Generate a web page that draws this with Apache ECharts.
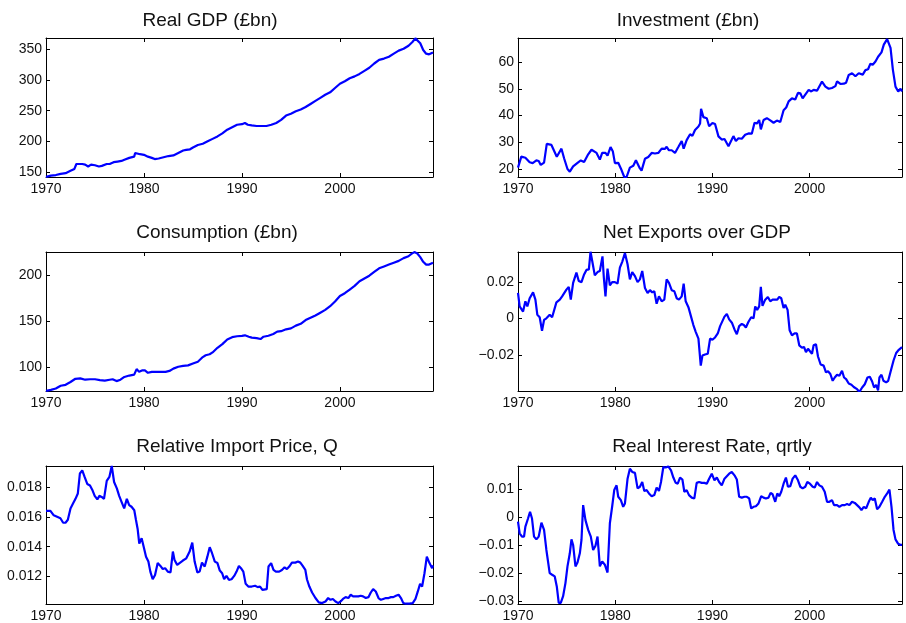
<!DOCTYPE html>
<html>
<head>
<meta charset="utf-8">
<script src="https://cdn.jsdelivr.net/npm/echarts@6/dist/echarts.min.js"></script>
<style>
html, body { margin: 0; padding: 0; background: #fff; }
#chart { width: 906px; height: 623px; }
</style>
</head>
<body>
<div id="chart"></div>
<script>
// quarterly UK series as [year, value]
const realGdp = [[1970.0,142],[1970.5,144],[1971.0,145],[1971.5,147],[1972.0,148],[1972.5,152],[1972.9,155],[1973.1,163],[1973.3,164],[1973.7,163],[1974.0,162],[1974.3,159],[1974.6,162],[1975.0,161],[1975.4,159],[1975.7,160],[1976.2,163],[1976.5,163],[1976.9,166],[1977.3,167],[1977.7,168],[1978.0,170],[1978.5,173],[1979.0,175],[1979.1,181],[1979.3,178],[1979.6,179],[1980.0,178],[1980.4,175],[1980.8,173],[1981.1,171],[1981.5,172],[1982.0,174],[1982.5,176],[1983.0,177],[1983.5,181],[1984.0,185],[1984.3,186],[1984.7,187],[1985.0,190],[1985.5,194],[1986.0,196],[1986.5,200],[1987.0,204],[1987.5,208],[1988.0,213],[1988.5,219],[1989.0,223],[1989.5,227],[1990.0,228],[1990.3,230],[1990.6,227],[1991.0,226],[1991.5,225],[1992.0,225],[1992.5,225],[1993.0,227],[1993.5,230],[1994.0,235],[1994.5,242],[1995.0,245],[1995.5,249],[1996.0,252],[1996.5,256],[1997.0,261],[1997.5,266],[1998.0,271],[1998.5,276],[1999.0,280],[1999.5,287],[2000.0,294],[2000.5,298],[2001.0,303],[2001.5,306],[2002.0,310],[2002.5,315],[2003.0,320],[2003.5,327],[2004.0,333],[2004.5,335],[2005.0,338],[2005.5,343],[2006.0,348],[2006.5,351],[2007.0,356],[2007.4,362],[2007.7,368],[2007.9,368],[2008.2,360],[2008.5,349],[2008.8,343],[2009.1,342],[2009.5,345]];

const investment = [[1970.00,20.5],[1970.34,24.6],[1970.76,24.2],[1971.20,22.5],[1971.51,22.2],[1971.89,23.2],[1972.13,23.0],[1972.34,21.5],[1972.68,22.4],[1972.82,22.6],[1972.96,29.4],[1973.44,29.0],[1973.64,28.5],[1973.99,24.6],[1974.47,27.6],[1974.74,24],[1975.09,20],[1975.33,19],[1975.67,21],[1976.19,22.5],[1976.46,23.2],[1976.80,22.6],[1977.22,25.5],[1977.56,27.2],[1978.08,26],[1978.42,23.5],[1978.66,26],[1979.00,26],[1979.21,25],[1979.52,28.2],[1979.76,26.5],[1979.97,22.2],[1980.31,22.3],[1980.65,19.6],[1980.93,17],[1981.17,17],[1981.51,20.5],[1981.86,21.2],[1982.13,23.3],[1982.30,23.5],[1982.54,20.2],[1982.71,19.4],[1983.06,23.8],[1983.40,24.5],[1983.75,26],[1984.09,25.8],[1984.43,26],[1984.78,27.6],[1985.12,27.5],[1985.29,28.3],[1985.53,27],[1985.81,27],[1986.15,26],[1986.49,28.2],[1986.84,30.5],[1987.04,27.6],[1987.35,30.8],[1987.70,33],[1987.94,32.4],[1988.21,34.6],[1988.56,35.9],[1988.73,37],[1988.83,42.5],[1989.07,39.4],[1989.42,39],[1989.66,36],[1990.00,37.2],[1990.27,36.8],[1990.62,32.2],[1990.96,31],[1991.24,31.2],[1991.65,28.5],[1991.99,31],[1992.16,32.3],[1992.41,30.5],[1992.68,31.5],[1993.02,31.3],[1993.37,32.8],[1993.71,33.3],[1994.05,33.2],[1994.33,37.3],[1994.57,37],[1994.81,38.3],[1994.98,34.8],[1995.26,38.3],[1995.60,39],[1995.95,38.2],[1996.12,38.7],[1996.29,37.3],[1996.63,38.1],[1996.98,37.6],[1997.32,42],[1997.59,43],[1997.84,45.3],[1998.18,46.4],[1998.52,46],[1998.80,48.5],[1999.04,48.3],[1999.28,46.4],[1999.55,47.8],[1999.90,49.6],[2000.17,49],[2000.41,49.6],[2000.76,49.3],[2000.93,49],[2001.27,52.7],[2001.62,50.8],[2001.96,50],[2002.30,50.3],[2002.65,51],[2002.82,52.8],[2003.16,51.8],[2003.51,51.9],[2003.75,52.3],[2004.02,55.2],[2004.36,55.8],[2004.71,54.7],[2005.05,55.8],[2005.22,56.4],[2005.46,55.3],[2005.74,57],[2006.01,57.3],[2006.25,59.4],[2006.49,59],[2006.77,60.2],[2007.04,62],[2007.39,63.6],[2007.63,66.5],[2007.97,68.6],[2008.14,68.8],[2008.32,65.3],[2008.56,57.2],[2008.83,50.8],[2009.11,49],[2009.35,50],[2009.50,49]];

const consumption = [[1970.0,74.5],[1970.5,75.5],[1971.0,77],[1971.5,80],[1972.0,81],[1972.5,84],[1973.0,87.5],[1973.5,88],[1974.0,86.5],[1974.5,87],[1975.0,87],[1975.5,86],[1976.0,85.5],[1976.5,86.5],[1976.8,87],[1977.2,85],[1977.6,86.5],[1978.0,89.5],[1978.5,91],[1979.0,92],[1979.25,98],[1979.5,95],[1979.8,96.5],[1980.1,96.5],[1980.4,94],[1980.8,95],[1981.2,95],[1981.7,95],[1982.2,95],[1982.6,96],[1983.0,98.5],[1983.5,100.5],[1984.0,101.5],[1984.5,102],[1985.0,104],[1985.5,106],[1986.0,111],[1986.3,113],[1986.7,114],[1987.0,116],[1987.5,121],[1988.0,125],[1988.5,130],[1989.0,132.5],[1989.5,133.5],[1990.0,134],[1990.3,134.5],[1990.7,133],[1991.0,132],[1991.5,131.5],[1991.9,130.5],[1992.2,133],[1992.7,134],[1993.2,136],[1993.6,138.5],[1994.0,139],[1994.5,141],[1995.0,142],[1995.5,145],[1996.0,147],[1996.5,151],[1997.0,153.5],[1997.5,156],[1998.0,159],[1998.5,162],[1999.0,166],[1999.5,171],[2000.0,177],[2000.5,180],[2001.0,184],[2001.5,188],[2002.0,193],[2002.5,196],[2003.0,199],[2003.5,203],[2004.0,207],[2004.5,209],[2005.0,211],[2005.5,213],[2006.0,215],[2006.5,218],[2007.0,220],[2007.3,222.5],[2007.6,224.5],[2007.9,223],[2008.2,219],[2008.5,214],[2008.8,211],[2009.1,211],[2009.5,213]];

const netExports = [[1970.00,0.0139],[1970.17,0.0065],[1970.52,0.0037],[1970.76,0.0093],[1970.96,0.0065],[1971.20,0.011],[1971.55,0.0142],[1971.79,0.0102],[1971.99,0.0019],[1972.23,0.0006],[1972.47,-0.0068],[1972.68,-0.0009],[1972.92,0],[1973.26,0.0019],[1973.51,0.0006],[1973.71,0.0006],[1973.95,0.0087],[1974.30,0.0102],[1974.54,0.012],[1974.74,0.011],[1974.98,0.0157],[1975.22,0.0172],[1975.43,0.0102],[1975.67,0.0194],[1976.01,0.025],[1976.25,0.0204],[1976.53,0.0198],[1976.80,0.024],[1977.04,0.0265],[1977.29,0.0268],[1977.46,0.0364],[1977.63,0.0315],[1977.90,0.0235],[1978.18,0.0253],[1978.42,0.0259],[1978.69,0.0339],[1978.83,0.0222],[1979.00,0.012],[1979.21,0.0272],[1979.45,0.018],[1979.69,0.0198],[1979.97,0.0198],[1980.24,0.019],[1980.48,0.0277],[1980.72,0.0309],[1981.00,0.0357],[1981.27,0.0296],[1981.51,0.0213],[1981.75,0.0253],[1982.03,0.0231],[1982.30,0.0198],[1982.54,0.0213],[1982.78,0.0259],[1983.06,0.0166],[1983.33,0.0139],[1983.57,0.0154],[1983.81,0.0142],[1984.02,0.0148],[1984.26,0.008],[1984.50,0.012],[1984.78,0.0093],[1985.05,0.0102],[1985.29,0.0213],[1985.53,0.0194],[1985.81,0.0154],[1986.08,0.0148],[1986.32,0.011],[1986.56,0.0102],[1986.84,0.012],[1987.04,0.019],[1987.25,0.0093],[1987.53,0.0061],[1987.80,0.0009],[1988.04,-0.0037],[1988.28,-0.0074],[1988.56,-0.0111],[1988.80,-0.0259],[1988.97,-0.0204],[1989.24,-0.0198],[1989.52,-0.0194],[1989.76,-0.0111],[1990.00,-0.0117],[1990.27,-0.0105],[1990.55,-0.0083],[1990.79,-0.0043],[1990.96,-0.0046],[1991.24,0.0009],[1991.48,0.0024],[1991.72,-0.0006],[1992.00,-0.0024],[1992.27,-0.0061],[1992.51,-0.0087],[1992.75,-0.0043],[1993.02,-0.0031],[1993.23,-0.0037],[1993.44,-0.005],[1993.71,-0.0019],[1993.99,0.0006],[1994.23,0],[1994.40,0.0065],[1994.60,0.0046],[1994.81,0.0065],[1994.98,0.0172],[1995.15,0.0068],[1995.43,0.0102],[1995.70,0.0117],[1995.95,0.0093],[1996.19,0.0102],[1996.46,0.0102],[1996.67,0.0102],[1996.87,0.0117],[1997.08,0.011],[1997.32,0.0056],[1997.49,0.0074],[1997.73,0.0046],[1997.94,-0.0065],[1998.18,-0.0093],[1998.45,-0.0083],[1998.69,-0.0083],[1998.93,-0.0148],[1999.21,-0.0161],[1999.42,-0.0157],[1999.62,-0.0185],[1999.83,-0.0167],[2000.03,-0.0161],[2000.24,-0.0194],[2000.41,-0.0148],[2000.65,-0.0142],[2000.86,-0.0209],[2001.13,-0.0253],[2001.44,-0.0259],[2001.68,-0.0296],[2001.89,-0.029],[2002.13,-0.0305],[2002.37,-0.0342],[2002.58,-0.0324],[2002.82,-0.0309],[2003.06,-0.0314],[2003.33,-0.0287],[2003.54,-0.0324],[2003.75,-0.0333],[2004.02,-0.0357],[2004.30,-0.0364],[2004.54,-0.0376],[2004.88,-0.0388],[2005.12,-0.0403],[2005.40,-0.0379],[2005.67,-0.0361],[2005.95,-0.0324],[2006.19,-0.032],[2006.43,-0.0346],[2006.63,-0.0379],[2006.84,-0.0364],[2007.04,-0.0394],[2007.18,-0.0324],[2007.39,-0.0309],[2007.59,-0.0342],[2007.87,-0.0351],[2008.08,-0.0342],[2008.35,-0.0287],[2008.63,-0.0231],[2008.90,-0.019],[2009.11,-0.0176],[2009.31,-0.018],[2009.50,-0.0158]];

const importPrice = [[1970.00,0.0164],[1970.45,0.0164],[1970.79,0.0161],[1971.13,0.0160],[1971.47,0.0159],[1971.75,0.0156],[1971.99,0.0156],[1972.23,0.0158],[1972.50,0.01656],[1972.77,0.0169],[1973.01,0.0172],[1973.25,0.01756],[1973.46,0.0189],[1973.70,0.0191],[1973.94,0.01867],[1974.21,0.0182],[1974.49,0.0181],[1974.73,0.0178],[1974.97,0.0174],[1975.24,0.01716],[1975.45,0.0174],[1975.68,0.01733],[1975.92,0.0172],[1976.20,0.0184],[1976.47,0.01867],[1976.71,0.0194],[1976.95,0.01833],[1977.23,0.0179],[1977.47,0.0174],[1977.71,0.0170],[1977.98,0.01656],[1978.25,0.0172],[1978.49,0.01678],[1978.73,0.01667],[1979.01,0.01644],[1979.18,0.0158],[1979.35,0.0152],[1979.52,0.0142],[1979.76,0.01456],[1979.97,0.0140],[1980.21,0.01333],[1980.45,0.0130],[1980.65,0.01233],[1980.89,0.01182],[1981.13,0.0121],[1981.40,0.0129],[1981.68,0.01271],[1981.92,0.0125],[1982.16,0.01256],[1982.43,0.01233],[1982.71,0.01227],[1982.95,0.01367],[1983.12,0.0131],[1983.39,0.01278],[1983.63,0.0129],[1983.97,0.01307],[1984.32,0.01322],[1984.66,0.01367],[1984.93,0.01427],[1985.17,0.0130],[1985.45,0.01227],[1985.68,0.01233],[1985.92,0.01293],[1986.20,0.01267],[1986.47,0.01333],[1986.71,0.01396],[1986.95,0.01356],[1987.23,0.0130],[1987.50,0.0129],[1987.74,0.0124],[1987.98,0.01222],[1988.18,0.01182],[1988.42,0.01204],[1988.66,0.01178],[1988.94,0.01182],[1989.21,0.01204],[1989.45,0.01233],[1989.69,0.01271],[1989.90,0.01256],[1990.14,0.01233],[1990.38,0.01151],[1990.65,0.01133],[1991.00,0.01133],[1991.34,0.01138],[1991.61,0.01129],[1991.85,0.01133],[1992.09,0.01111],[1992.29,0.0110],[1992.53,0.01116],[1992.71,0.01267],[1992.98,0.0129],[1993.22,0.01244],[1993.46,0.01233],[1993.80,0.01233],[1994.08,0.01244],[1994.35,0.01262],[1994.59,0.0125],[1994.83,0.01267],[1995.10,0.01293],[1995.45,0.01293],[1995.72,0.0130],[1995.96,0.01293],[1996.20,0.01271],[1996.47,0.01244],[1996.64,0.0118],[1996.88,0.01133],[1997.16,0.01093],[1997.50,0.01056],[1997.84,0.01027],[1998.18,0.01022],[1998.53,0.01033],[1998.80,0.01056],[1999.04,0.01044],[1999.28,0.0105],[1999.55,0.01033],[1999.83,0.01022],[2000.07,0.01033],[2000.31,0.0105],[2000.58,0.01062],[2000.86,0.01056],[2001.10,0.01078],[2001.34,0.01067],[2001.61,0.01067],[2001.88,0.01067],[2002.12,0.01071],[2002.36,0.01067],[2002.64,0.01056],[2002.91,0.01062],[2003.15,0.01093],[2003.39,0.01116],[2003.66,0.0110],[2003.94,0.01056],[2004.18,0.01044],[2004.42,0.0105],[2004.69,0.01056],[2004.97,0.01056],[2005.21,0.01062],[2005.45,0.01062],[2005.72,0.01071],[2005.99,0.01078],[2006.23,0.01056],[2006.47,0.01022],[2006.75,0.01018],[2007.09,0.01018],[2007.43,0.01022],[2007.71,0.0105],[2007.95,0.0110],[2008.18,0.01151],[2008.39,0.01133],[2008.63,0.01222],[2008.87,0.01333],[2009.14,0.0129],[2009.41,0.01256],[2009.50,0.01275]];

const interestRate = [[1970.00,-0.0015],[1970.17,-0.0057],[1970.41,-0.0069],[1970.62,-0.0069],[1970.76,-0.0033],[1971.03,-0.0004],[1971.24,0.002],[1971.44,-0.0004],[1971.65,-0.0069],[1971.89,-0.0079],[1972.13,-0.0069],[1972.41,-0.0019],[1972.68,-0.0045],[1972.92,-0.0117],[1973.26,-0.02],[1973.51,-0.0206],[1973.78,-0.0212],[1973.99,-0.0248],[1974.19,-0.0307],[1974.40,-0.0307],[1974.64,-0.0283],[1974.88,-0.0236],[1975.09,-0.0176],[1975.33,-0.0129],[1975.50,-0.0079],[1975.67,-0.0099],[1975.91,-0.0176],[1976.12,-0.0162],[1976.36,-0.0129],[1976.53,-0.0081],[1976.70,0.0044],[1976.94,-0.001],[1977.22,-0.0045],[1977.49,-0.0069],[1977.73,-0.0117],[1977.97,-0.0102],[1978.18,-0.0069],[1978.42,-0.0176],[1978.66,-0.0158],[1978.93,-0.017],[1979.21,-0.0198],[1979.45,-0.0021],[1979.69,0.004],[1979.90,0.0098],[1980.14,0.0115],[1980.31,0.0074],[1980.58,0.0062],[1980.82,0.0038],[1981.00,0.005],[1981.27,0.0139],[1981.51,0.0175],[1981.75,0.0163],[1982.03,0.016],[1982.30,0.0104],[1982.54,0.011],[1982.78,0.0127],[1982.99,0.0095],[1983.23,0.0098],[1983.47,0.0086],[1983.75,0.0076],[1984.02,0.008],[1984.26,0.0107],[1984.50,0.0095],[1984.71,0.0127],[1984.95,0.0181],[1985.19,0.0179],[1985.46,0.0183],[1985.74,0.0169],[1985.98,0.0143],[1986.22,0.0124],[1986.43,0.0121],[1986.67,0.0143],[1986.91,0.0136],[1987.11,0.0092],[1987.35,0.0098],[1987.59,0.008],[1987.87,0.0071],[1988.14,0.0068],[1988.38,0.0124],[1988.63,0.0127],[1988.90,0.0124],[1989.18,0.0124],[1989.42,0.0121],[1989.66,0.0139],[1989.93,0.0157],[1990.21,0.0133],[1990.45,0.0143],[1990.69,0.0127],[1990.96,0.0115],[1991.24,0.0139],[1991.48,0.0148],[1991.72,0.0157],[1991.99,0.0163],[1992.27,0.0151],[1992.51,0.0136],[1992.75,0.0074],[1993.02,0.0071],[1993.30,0.0074],[1993.54,0.0074],[1993.78,0.0068],[1993.99,0.0032],[1994.23,0.0038],[1994.47,0.004],[1994.74,0.005],[1995.02,0.0076],[1995.26,0.0071],[1995.50,0.0068],[1995.77,0.0071],[1995.98,0.0088],[1996.19,0.0083],[1996.46,0.0056],[1996.67,0.0086],[1996.87,0.0076],[1997.08,0.0092],[1997.32,0.0121],[1997.56,0.0143],[1997.77,0.011],[1998.01,0.0112],[1998.25,0.0139],[1998.52,0.0151],[1998.80,0.0133],[1999.04,0.011],[1999.28,0.0104],[1999.55,0.011],[1999.76,0.0127],[2000.03,0.0121],[2000.31,0.011],[2000.52,0.0107],[2000.76,0.0127],[2001.00,0.0115],[2001.27,0.011],[2001.55,0.0092],[2001.79,0.0056],[2002.03,0.0056],[2002.30,0.0062],[2002.51,0.0044],[2002.82,0.0044],[2003.06,0.0038],[2003.33,0.0044],[2003.61,0.0044],[2003.85,0.0048],[2004.09,0.0044],[2004.36,0.0056],[2004.64,0.0052],[2004.88,0.0044],[2005.12,0.0036],[2005.33,0.0026],[2005.57,0.0038],[2005.81,0.0032],[2006.08,0.0056],[2006.29,0.0071],[2006.49,0.0062],[2006.70,0.0068],[2006.94,0.0029],[2007.18,0.0038],[2007.46,0.0056],[2007.73,0.0074],[2008.01,0.0088],[2008.21,0.01],[2008.42,0.0038],[2008.63,-0.0045],[2008.83,-0.0079],[2009.11,-0.0095],[2009.38,-0.0099],[2009.50,-0.0099]];

const titles = ['Real GDP (£bn)', 'Investment (£bn)', 'Consumption (£bn)', 'Net Exports over GDP', 'Relative Import Price, Q', 'Real Interest Rate, qrtly'];
const yearTicks = [1970, 1980, 1990, 2000];
const yTicks = [
  [150, 200, 250, 300, 350],
  [20, 30, 40, 50, 60],
  [100, 150, 200],
  [-0.02, 0, 0.02],
  [0.012, 0.014, 0.016, 0.018],
  [-0.03, -0.02, -0.01, 0, 0.01]
];
const yRanges = [[141.8, 368.6], [17, 69], [74.3, 224.6], [-0.0398, 0.0363], [0.01016, 0.0194], [-0.0311, 0.01845]];
const seriesData = [realGdp, investment, consumption, netExports, importPrice, interestRate];

const font = '"Liberation Sans", Arial, Helvetica, sans-serif';
const boxes = [
  { left: 46, top: 38, width: 387, height: 139 },
  { left: 518, top: 38, width: 384, height: 139 },
  { left: 46, top: 252, width: 387, height: 139 },
  { left: 518, top: 252, width: 384, height: 139 },
  { left: 46, top: 466, width: 387, height: 138 },
  { left: 518, top: 466, width: 384, height: 138 }
];
// title centre x and baseline y, as measured on the picture
const titlePos = [[210, 27], [688, 27], [217, 239], [697, 239], [237, 453], [712, 453]];

const fmt = v => String(v).replace('-', '\u2212');

let grid = [], xAxis = [], yAxis = [], series = [], graphic = [];
boxes.forEach((b, i) => {
  grid.push(b);
  const line = { show: true, onZero: false, lineStyle: { color: '#000', width: 1 } };
  const tick = vals => ({ show: true, inside: true, length: 4, customValues: vals, lineStyle: { color: '#000', width: 1 } });
  xAxis.push({
    type: 'value', gridIndex: i, position: 'bottom', min: 1970, max: 2009.5,
    axisLine: line,
    axisTick: tick(yearTicks),
    axisLabel: { customValues: yearTicks, formatter: v => String(v), color: '#111', fontFamily: font, fontSize: 14, margin: 5 },
    splitLine: { show: false }
  });
  xAxis.push({
    type: 'value', gridIndex: i, position: 'top', min: 1970, max: 2009.5,
    axisLine: line,
    axisTick: tick(yearTicks),
    axisLabel: { show: false },
    splitLine: { show: false }
  });
  yAxis.push({
    type: 'value', gridIndex: i, position: 'left', min: yRanges[i][0], max: yRanges[i][1],
    axisLine: line,
    axisTick: tick(yTicks[i]),
    axisLabel: { customValues: yTicks[i], formatter: fmt, color: '#111', fontFamily: font, fontSize: 14, margin: 4 },
    splitLine: { show: false }
  });
  yAxis.push({
    type: 'value', gridIndex: i, position: 'right', min: yRanges[i][0], max: yRanges[i][1],
    axisLine: line,
    axisTick: tick(yTicks[i]),
    axisLabel: { show: false },
    splitLine: { show: false }
  });
  series.push({
    type: 'line', xAxisIndex: i * 2, yAxisIndex: i * 2,
    data: seriesData[i], showSymbol: false, symbol: 'none',
    lineStyle: { color: '#0000ff', width: 2.2 }, clip: true
  });
  graphic.push({
    type: 'text', x: titlePos[i][0], y: titlePos[i][1] - 6.5,
    style: { text: titles[i], font: '19px ' + font, fill: '#111', align: 'center', verticalAlign: 'middle' }
  });
});

var myChart = echarts.init(document.getElementById('chart'));
myChart.setOption({
  animation: false,
  backgroundColor: '#fff',
  grid: grid,
  xAxis: xAxis,
  yAxis: yAxis,
  series: series,
  graphic: graphic
});
</script>
</body>
</html>
